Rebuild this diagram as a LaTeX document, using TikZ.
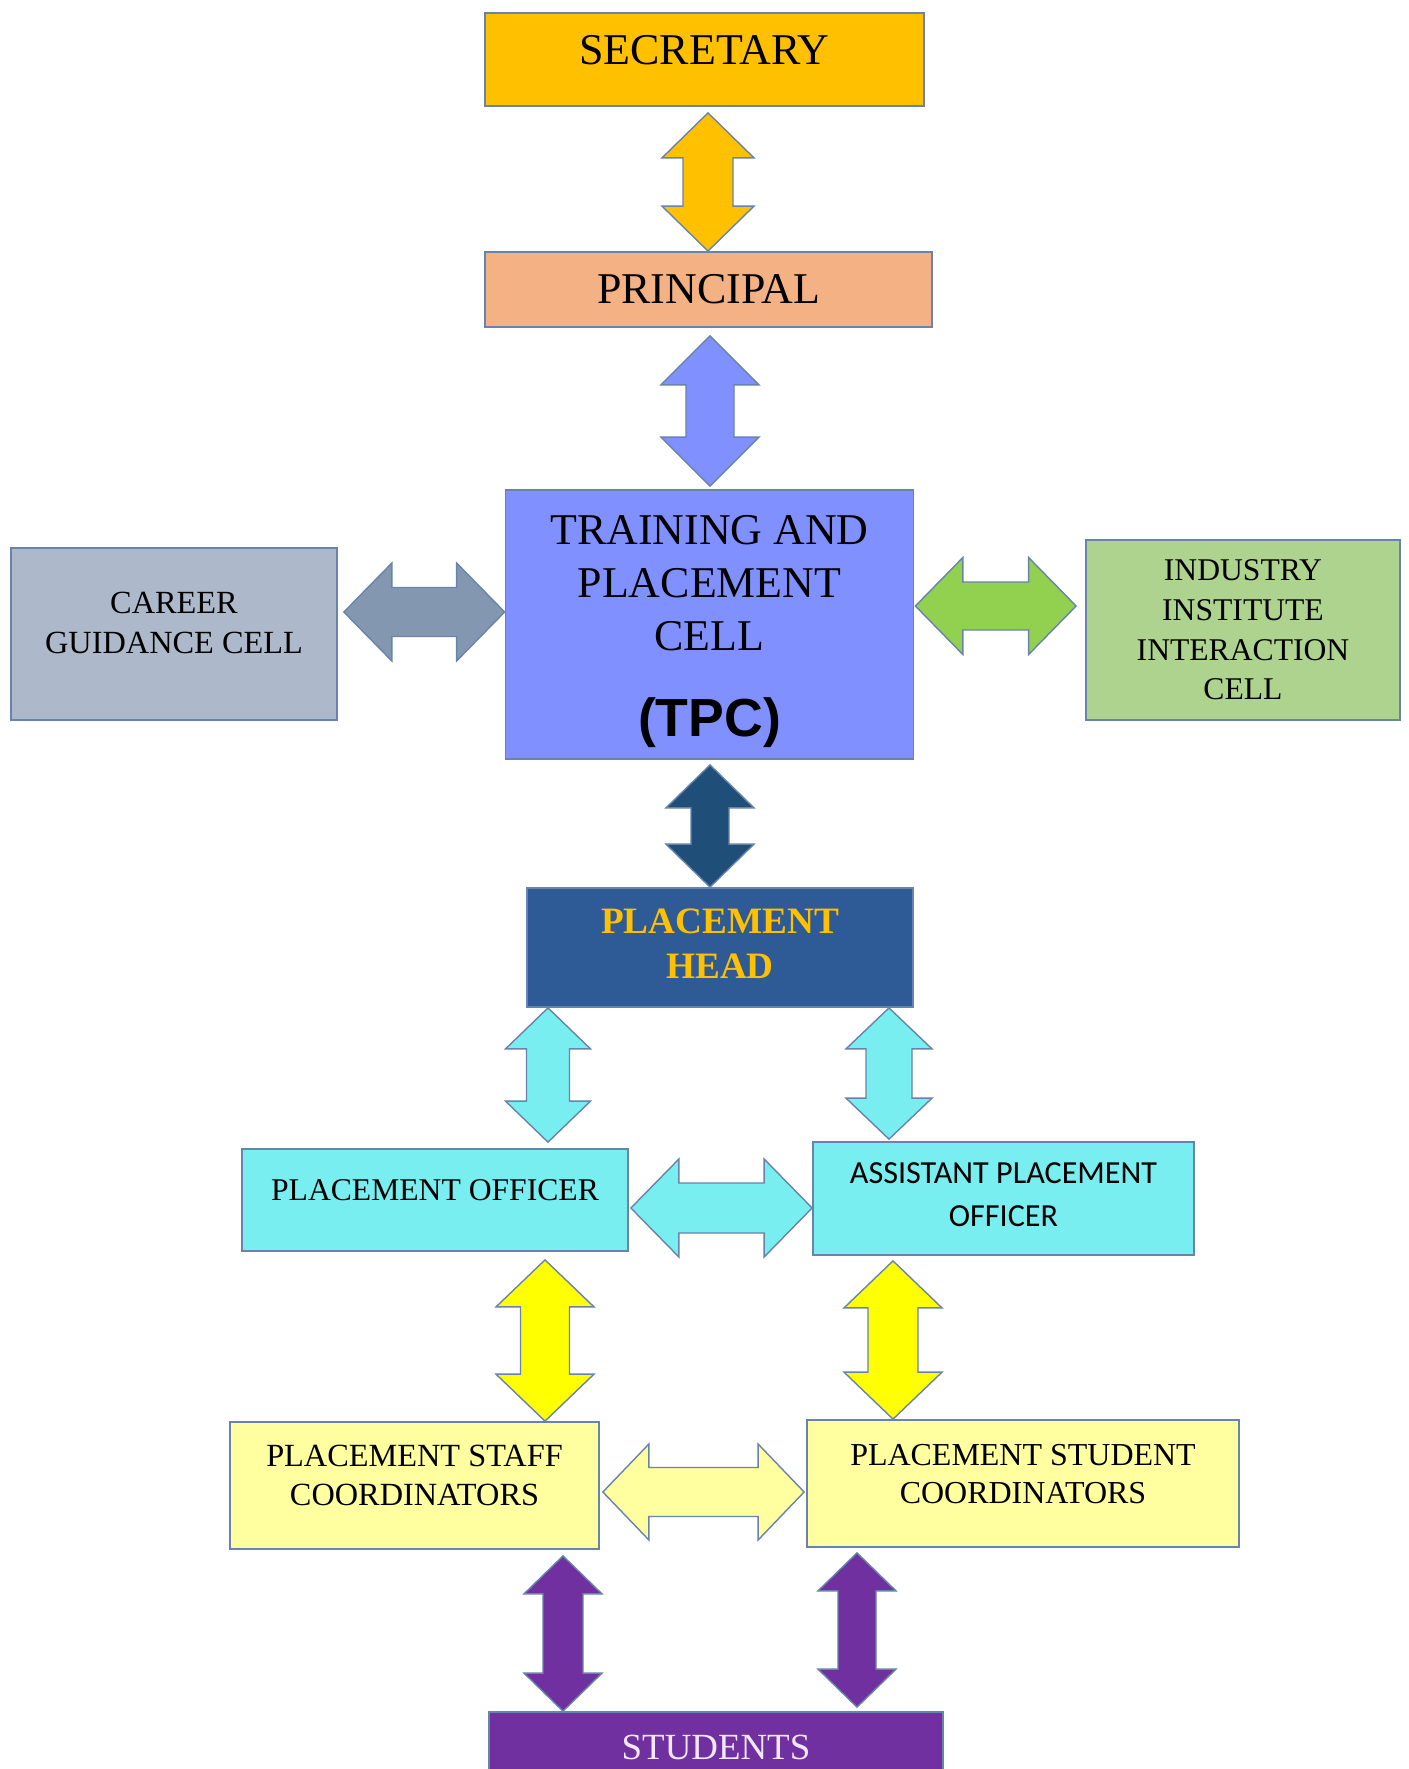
\documentclass[tikz,border=0pt]{standalone}
\usepackage{fontspec}
\setmainfont{Liberation Serif}
\newfontfamily\tpcfont{Liberation Sans}
\newfontfamily\apofont{Carlito}
\usepackage{tikz}
\usetikzlibrary{calc, positioning}

\definecolor{edgeblue}{RGB}{104,132,170}
\definecolor{secgold}{HTML}{FFC000}
\definecolor{pripeach}{HTML}{F4B183}
\definecolor{tpcblue}{RGB}{128,144,255}
\definecolor{careergrey}{HTML}{ADB9CA}
\definecolor{careerarrow}{HTML}{8497B0}
\definecolor{indgreen}{RGB}{174,211,143}
\definecolor{indarrow}{HTML}{92D050}
\definecolor{headblue}{RGB}{46,90,150}
\definecolor{headarrow}{HTML}{1F4E79}
\definecolor{offcyan}{RGB}{120,238,240}
\definecolor{coordyellow}{RGB}{255,255,160}
\definecolor{brightyellow}{HTML}{FFFF00}
\definecolor{stupurple}{HTML}{7030A0}
\definecolor{stutext}{RGB}{240,232,250}

\newcommand{\pxu}{0.02cm}
\newcommand{\padbelow}[1]{\rule[-#1]{0pt}{#1}}

% mui ten doi dung: kieu, o tren, o duoi, x, nua dau, nua than, dai dau, khe tren, khe duoi
\newcommand{\vlink}[9]{%
  \draw[#1] let \p1=($(#2.south)+(0,#8)$), \p2=($(#3.north)-(0,#9)$), \p3=(#4,0) in
    (\x3,\y1) -- (\x3+#5*\pxu,\y1-#7*\pxu) -- (\x3+#6*\pxu,\y1-#7*\pxu)
    -- (\x3+#6*\pxu,\y2+#7*\pxu) -- (\x3+#5*\pxu,\y2+#7*\pxu) -- (\x3,\y2)
    -- (\x3-#5*\pxu,\y2+#7*\pxu) -- (\x3-#6*\pxu,\y2+#7*\pxu)
    -- (\x3-#6*\pxu,\y1-#7*\pxu) -- (\x3-#5*\pxu,\y1-#7*\pxu) -- cycle;
}
% mui ten doi ngang: kieu, o trai, o phai, y, nua dau, nua than, dai dau, khe trai, khe phai
\newcommand{\hlink}[9]{%
  \draw[#1] let \p1=($(#2.east)+(#8,0)$), \p2=($(#3.west)-(#9,0)$), \p3=(0,#4) in
    (\x1,\y3) -- (\x1+#7*\pxu,\y3+#5*\pxu) -- (\x1+#7*\pxu,\y3+#6*\pxu)
    -- (\x2-#7*\pxu,\y3+#6*\pxu) -- (\x2-#7*\pxu,\y3+#5*\pxu) -- (\x2,\y3)
    -- (\x2-#7*\pxu,\y3-#5*\pxu) -- (\x2-#7*\pxu,\y3-#6*\pxu)
    -- (\x1+#7*\pxu,\y3-#6*\pxu) -- (\x1+#7*\pxu,\y3-#5*\pxu) -- cycle;
}

\begin{document}
\begin{tikzpicture}[x=0.02cm, y=-0.02cm,
    box/.style={draw=edgeblue, line width=1pt, align=center, inner sep=0pt},
    boxsize/.style 2 args={minimum width=#1*\pxu, minimum height=#2*\pxu},
    link/.style={draw=edgeblue, line width=0.8pt, line join=miter}]

    \useasboundingbox (0,0) rectangle (1409,1769);
    \fill[white] (0,0) rectangle (1409,1769);
    \clip (0,0) rectangle (1409,1769);

    % Ve cac o
    \node[box, fill=secgold, boxsize={439}{93}, font=\fontsize{25}{30}\selectfont]
        (sec) at (704.5,59.5) {SECRETARY\padbelow{0.38cm}};
    \node[box, fill=pripeach, boxsize={447}{75}, font=\fontsize{25}{30}\selectfont]
        (pri) at (708.5,289.5) {PRINCIPAL};
    \node[box, fill=tpcblue, boxsize={408}{269}, font=\fontsize{25}{30}\selectfont]
        (tpc) at (709.5,624.5) {\rule{0pt}{24.5pt}TRAINING AND\\PLACEMENT\\CELL\\[19pt]{\tpcfont\bfseries\fontsize{30.5}{35}\selectfont (TPC)}};
    \node[box, fill=careergrey, boxsize={326}{172}, font=\fontsize{18.4}{22.5}\selectfont]
        (cgc) at (174,634) {CAREER\\GUIDANCE CELL\padbelow{0.44cm}};
    \node[box, fill=indgreen, boxsize={314}{180}, font=\fontsize{18}{22.6}\selectfont]
        (iic) at (1243,630) {INDUSTRY\\INSTITUTE\\INTERACTION\\CELL};
    \node[box, fill=headblue, text=secgold, boxsize={386}{119}, font=\fontsize{21.2}{25.6}\selectfont\bfseries]
        (head) at (720,947.5) {PLACEMENT\\HEAD\padbelow{0.14cm}};
    \node[box, fill=offcyan, boxsize={386}{102}, font=\fontsize{18}{22}\selectfont]
        (po) at (435,1200) {PLACEMENT OFFICER\padbelow{0.4cm}};
    \node[box, fill=offcyan, boxsize={381}{113}, font=\apofont\fontsize{18.3}{24}\selectfont]
        (apo) at (1003.5,1198.5) {ASSISTANT PLACEMENT\\OFFICER\padbelow{0.16cm}};
    \node[box, fill=coordyellow, boxsize={369}{127}, font=\fontsize{18.4}{22.5}\selectfont]
        (psc) at (414.5,1485.5) {PLACEMENT STAFF\\COORDINATORS\padbelow{0.4cm}};
    \node[box, fill=coordyellow, boxsize={432}{127}, font=\fontsize{18.2}{21.6}\selectfont]
        (pstc) at (1023,1483.5) {PLACEMENT STUDENT\\COORDINATORS\padbelow{0.4cm}};
    \node[box, fill=stupurple, text=stutext, boxsize={454}{70}, font=\fontsize{21}{25}\selectfont]
        (stu) at (716,1747) {STUDENTS};

    % Ve cac mui ten
    \vlink{link, fill=secgold}{sec}{pri}{708}{46}{25}{45}{6}{0}
    \vlink{link, fill=tpcblue}{pri}{tpc}{710}{49}{24}{49}{8}{3}
    \vlink{link, fill=headarrow}{tpc}{head}{710}{44}{19}{43}{5}{0}
    \hlink{link, fill=careerarrow}{cgc}{tpc}{612}{49}{24.5}{48}{6}{0}
    \hlink{link, fill=indarrow}{tpc}{iic}{606}{48.5}{24}{47.5}{1}{9}
    \vlink{link, fill=offcyan}{head}{po}{548}{42.5}{21.5}{41}{0}{6}
    \vlink{link, fill=offcyan}{head}{apo}{889}{43}{23}{41}{0}{2}
    \hlink{link, fill=offcyan}{po}{apo}{1208}{49}{25}{48}{2}{0}
    \vlink{link, fill=brightyellow}{po}{psc}{545}{49}{24.5}{47}{8}{0}
    \vlink{link, fill=brightyellow}{apo}{pstc}{893}{49}{25}{47}{5}{0}
    \hlink{link, fill=coordyellow}{psc}{pstc}{1492}{48}{24.5}{46}{3}{2}
    \vlink{link, fill=stupurple}{psc}{stu}{563}{39}{20}{38}{6}{0}
    \vlink{link, fill=stupurple}{pstc}{stu}{857}{39}{19}{38}{5}{4}

\end{tikzpicture}
\end{document}
